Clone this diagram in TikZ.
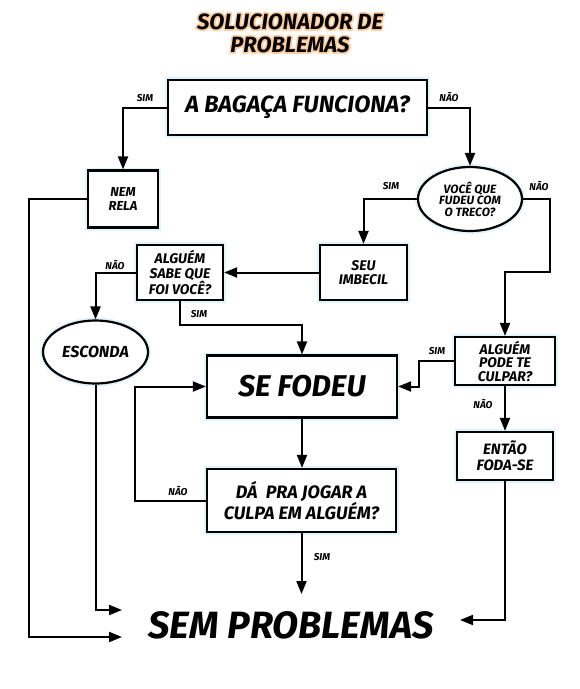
\documentclass[tikz,border=0pt]{standalone}
\usepackage{fontspec}
\setmainfont{Fira Sans}
\usetikzlibrary{arrows.meta,shapes.geometric}
% orange halo behind the title letters
\newcommand{\glowtext}[1]{\makebox[0pt][l]{\special{pdf:literal direct 1 Tr 3.5 w 1 0.8 0.62 RG 1 J 1 j}#1\special{pdf:literal direct 0 Tr}}#1}

\begin{document}
\begin{tikzpicture}[x=1pt,y=1pt,yscale=-1,xscale=1,
    box/.style={draw,line width=2.2pt,fill=white,align=center,
      preaction={draw=cyan!12,line width=6pt},inner sep=1pt,font=\bfseries\itshape\fontsize{14}{14.5}\selectfont},
    oval/.style={box,ellipse},
    arr/.style={line width=2pt,-{Triangle[length=13pt,width=10pt]}},
    lbl/.style={font=\bfseries\itshape\fontsize{10}{10}\selectfont,inner sep=0.75pt}]
% frame
\useasboundingbox (0,0) rectangle (580,689);

% Title
\node (title) at (290,33) [align=center,font=\bfseries\itshape\fontsize{22}{23}\selectfont]
  {\glowtext{SOLUCIONADOR DE}\\\glowtext{PROBLEMAS}};

% Boxes
\node (bagaca) at (297.5,107.5) [box,minimum width=259,minimum height=55,font=\bfseries\itshape\fontsize{23.5}{25}\selectfont] {A BAGAÇA FUNCIONA?};
\node (nemrela) at (123,199) [box,minimum width=70,minimum height=57,font=\bfseries\itshape\fontsize{13}{14.5}\selectfont] {NEM\\RELA};
\node (voce) at (470,199) [oval,minimum width=104,minimum height=64,inner sep=-9pt,font=\bfseries\itshape\fontsize{12}{11.5}\selectfont] {VOCÊ QUE\\FUDEU COM\\O TRECO?};
\node (imbecil) at (363.5,272.5) [box,minimum width=87,minimum height=55] {SEU\\IMBECIL};
\node (sabe) at (180,272.5) [box,minimum width=86,minimum height=55] {ALGUÉM\\SABE QUE\\FOI VOCÊ?};
\node (esconda) at (95.5,352) [oval,minimum width=105,minimum height=63,inner sep=-2pt,font=\bfseries\itshape\fontsize{16}{17}\selectfont] {ESCONDA};
\node (fodeu) at (302,386.5) [box,minimum width=190,minimum height=62,font=\bfseries\itshape\fontsize{30}{32}\selectfont] {SE FODEU};
\node (culpar) at (505,361) [box,minimum width=100,minimum height=48,font=\bfseries\itshape\fontsize{14}{13.5}\selectfont] {ALGUÉM\\PODE TE\\CULPAR?};
\node (entao) at (505,456) [box,minimum width=96,minimum height=48,font=\bfseries\itshape\fontsize{15}{16}\selectfont] {ENTÃO\\FODA-SE};
\node (jogar) at (301.5,500.5) [box,minimum width=189,minimum height=63,font=\bfseries\itshape\fontsize{18}{18}\selectfont] {DÁ~ PRA JOGAR A\\CULPA EM ALGUÉM?};
\node (sem) at (291,625) [font=\bfseries\itshape\fontsize{38}{40}\selectfont] {SEM PROBLEMAS};

% Free ends
\coordinate (turn) at (550,272);
\coordinate (semA) at (122,610);
\coordinate (semB) at (122,637);
\coordinate (semC) at (460,620);
\coordinate (semD) at (301.5,594);

% Connectors
\draw [arr] (bagaca.west) -| (nemrela.north);
\draw [arr] (bagaca.east) -| (voce.north);
\draw [arr] (voce.west) -| (imbecil.north);
\draw [arr] (voce.east) -| (turn) -| (culpar.north);
\draw [arr] (imbecil.west) -- (sabe.east);
\draw [arr] (sabe.west) -| (esconda.north);
\draw [arr] (sabe.south) -- ++(0,24) -| (fodeu.north);
\draw [arr] (esconda.south) |- (semA);
\draw [arr] (nemrela.west) -- ++(-58,0) |- (semB);
\draw [arr] (culpar.west) -- ++(-35,0) |- (fodeu.east);
\draw [arr] (culpar.south) -- (entao.north);
\draw [arr] (entao.south) |- (semC);
\draw [arr] (fodeu.south) -- (fodeu.south |- jogar.north);
\draw [arr] (jogar.west) -- ++(-71,0) |- (fodeu.west);
\draw [arr] (jogar.south) -- (semD);

% Labels
\node (l1) at (145,98) [lbl] {SIM};
\node (l2) at (449,97) [lbl] {NÃO};
\node (l3) at (391,186) [lbl] {SIM};
\node (l4) at (539,186) [lbl] {NÃO};
\node (l5) at (115,265) [lbl] {NÃO};
\node (l6) at (199,314) [lbl] {SIM};
\node (l7) at (437,351) [lbl] {SIM};
\node (l8) at (483,404) [lbl] {NÃO};
\node (l9) at (178,491) [lbl] {NÃO};
\node (l10) at (322,557) [lbl] {SIM};
\end{tikzpicture}
\end{document}
